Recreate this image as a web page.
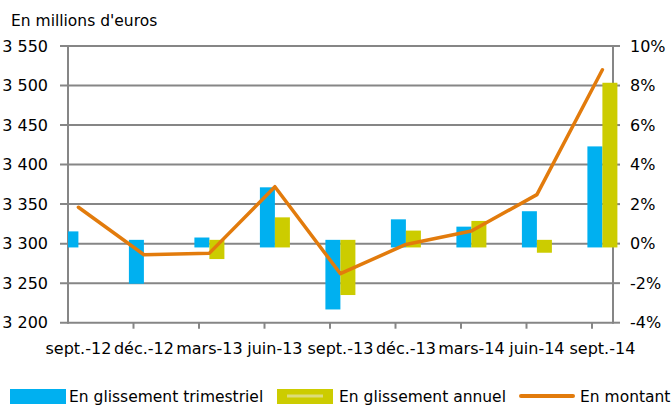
<!DOCTYPE html>
<html>
<head>
<meta charset="utf-8">
<script src="https://cdn.jsdelivr.net/npm/d3@7"></script>
<style>
  body { margin: 0; background: #fff; }
  text { font-family: 'DejaVu Sans', Verdana, sans-serif; fill: #000; }
</style>
</head>
<body>
<div id="chart"></div>
<script>
var categories = ['sept.-12', 'déc.-12', 'mars-13', 'juin-13', 'sept.-13', 'déc.-13', 'mars-14', 'juin-14', 'sept.-14'];
var trimestriel = [0.62, -2.03, 0.31, 2.85, -3.33, 1.23, 0.86, 1.64, 4.92];
var annuel = [null, null, -0.78, 1.33, -2.6, 0.66, 1.15, -0.46, 8.14];
var montant = [3346, 3286, 3288, 3372, 3262, 3299, 3316, 3362, 3520];
var leftTicks = [3200, 3250, 3300, 3350, 3400, 3450, 3500, 3550];
var rightTicks = [-4, -2, 0, 2, 4, 6, 8, 10];

var width = 672;
var height = 407;
var margin = { top: 46, right: 59, bottom: 85, left: 68 };
var graphWidth = width - margin.left - margin.right;
var graphHeight = height - margin.top - margin.bottom + 0.7;

var blue = '#00b0f0';
var yellow = '#cccc00';
var orange = '#e27b0c';
var grey = '#868686';

var svg = d3
  .select('#chart')
  .append('svg')
  .attr('width', width)
  .attr('height', height);

svg
  .append('text')
  .attr('x', 11)
  .attr('y', 26)
  .style('font-size', '15.5px')
  .text("En millions  d'euros");

var graph = svg
  .append('g')
  .attr('transform', 'translate(' + margin.left + ',' + margin.top + ')');

// scales
var x = d3
  .scalePoint()
  .domain(categories)
  .range([10.4, 534.4]);
var tickOffset = -10.4;

var yLeft = d3
  .scaleLinear()
  .domain([3200, 3550])
  .range([graphHeight, 0]);
var yRight = d3
  .scaleLinear()
  .domain([-4, 10])
  .range([graphHeight, 0]);

// grid
graph
  .append('g')
  .selectAll('line')
  .data(leftTicks)
  .enter()
  .append('line')
  .attr('x1', -8)
  .attr('x2', graphWidth)
  .attr('y1', d => yLeft(d))
  .attr('y2', d => yLeft(d))
  .attr('stroke', grey)
  .attr('stroke-width', 2);

// right ticks
graph
  .append('g')
  .selectAll('line')
  .data(rightTicks)
  .enter()
  .append('line')
  .attr('x1', graphWidth)
  .attr('x2', graphWidth + 7)
  .attr('y1', d => yRight(d))
  .attr('y2', d => yRight(d))
  .attr('stroke', grey)
  .attr('stroke-width', 2);

// axis lines
graph
  .append('line')
  .attr('x1', 0)
  .attr('x2', 0)
  .attr('y1', -1)
  .attr('y2', graphHeight + 1)
  .attr('stroke', grey)
  .attr('stroke-width', 2);
graph
  .append('line')
  .attr('x1', graphWidth)
  .attr('x2', graphWidth)
  .attr('y1', -1)
  .attr('y2', graphHeight + 1)
  .attr('stroke', grey)
  .attr('stroke-width', 2);

// bottom ticks
graph
  .append('g')
  .selectAll('line')
  .data(categories.slice(1))
  .enter()
  .append('line')
  .attr('x1', d => x(d) + tickOffset)
  .attr('x2', d => x(d) + tickOffset)
  .attr('y1', graphHeight)
  .attr('y2', graphHeight + 6)
  .attr('stroke', grey)
  .attr('stroke-width', 2);

// tick labels
graph
  .append('g')
  .selectAll('text')
  .data(leftTicks)
  .enter()
  .append('text')
  .attr('x', -20)
  .attr('y', d => yLeft(d))
  .attr('dy', '0.36em')
  .attr('text-anchor', 'end')
  .style('font-size', '16px')
  .text(d => d3.format(',')(d).replace(',', ' '));

graph
  .append('g')
  .selectAll('text')
  .data(rightTicks)
  .enter()
  .append('text')
  .attr('x', graphWidth + 17)
  .attr('y', d => yRight(d))
  .attr('dy', '0.36em')
  .style('font-size', '16px')
  .text(d => d + '%');

graph
  .append('g')
  .selectAll('text')
  .data(categories)
  .enter()
  .append('text')
  .attr('x', d => x(d))
  .attr('y', graphHeight + 31)
  .attr('text-anchor', 'middle')
  .style('font-size', '16px')
  .text(d => d);

// bars
graph
  .append('clipPath')
  .attr('id', 'plot-clip')
  .append('rect')
  .attr('x', 0)
  .attr('y', -20)
  .attr('width', graphWidth + 10)
  .attr('height', graphHeight + 40);

var bars = graph.append('g').attr('clip-path', 'url(#plot-clip)');
var barWidth = 15;
var pad = 3.8;
var y0 = yRight(0);

function addBars(values, color, shift) {
  var rows = categories
    .map((c, i) => ({ c: c, v: values[i] }))
    .filter(d => d.v !== null);
  bars
    .selectAll(null)
    .data(rows)
    .enter()
    .append('rect')
    .attr('x', d => x(d.c) + shift)
    .attr('width', barWidth)
    .attr('y', d => (d.v >= 0 ? yRight(d.v) : y0 - pad))
    .attr('height', d => Math.abs(yRight(d.v) - y0) + pad)
    .attr('fill', color);
}

addBars(trimestriel, blue, -barWidth);
addBars(annuel, yellow, 0);

// line
var line = d3
  .line()
  .x((d, i) => x(categories[i]))
  .y(d => yLeft(d));

graph
  .append('path')
  .datum(montant)
  .attr('d', line)
  .attr('fill', 'none')
  .attr('stroke', orange)
  .attr('stroke-width', 3.5)
  .attr('stroke-linejoin', 'round')
  .attr('stroke-linecap', 'round');

// legend
var legend = svg.append('g').attr('transform', 'translate(0,396)');

legend
  .append('rect')
  .attr('x', 10)
  .attr('y', -7)
  .attr('width', 56)
  .attr('height', 15)
  .attr('fill', blue);
legend
  .append('text')
  .attr('x', 69)
  .attr('y', 0)
  .attr('dy', '0.36em')
  .style('font-size', '15.5px')
  .text('En glissement  trimestriel');

legend
  .append('rect')
  .attr('x', 277)
  .attr('y', -7)
  .attr('width', 56)
  .attr('height', 15)
  .attr('fill', yellow);
legend
  .append('rect')
  .attr('x', 287)
  .attr('y', -1.5)
  .attr('width', 36)
  .attr('height', 3)
  .attr('fill', '#dcdc7a');
legend
  .append('text')
  .attr('x', 339)
  .attr('y', 0)
  .attr('dy', '0.36em')
  .style('font-size', '15.5px')
  .text('En glissement  annuel');

legend
  .append('line')
  .attr('x1', 521)
  .attr('x2', 573)
  .attr('y1', 0)
  .attr('y2', 0)
  .attr('stroke', orange)
  .attr('stroke-width', 4)
  .attr('stroke-linecap', 'round');
legend
  .append('text')
  .attr('x', 580)
  .attr('y', 0)
  .attr('dy', '0.36em')
  .style('font-size', '15.5px')
  .text('En montant');
</script>
</body>
</html>
